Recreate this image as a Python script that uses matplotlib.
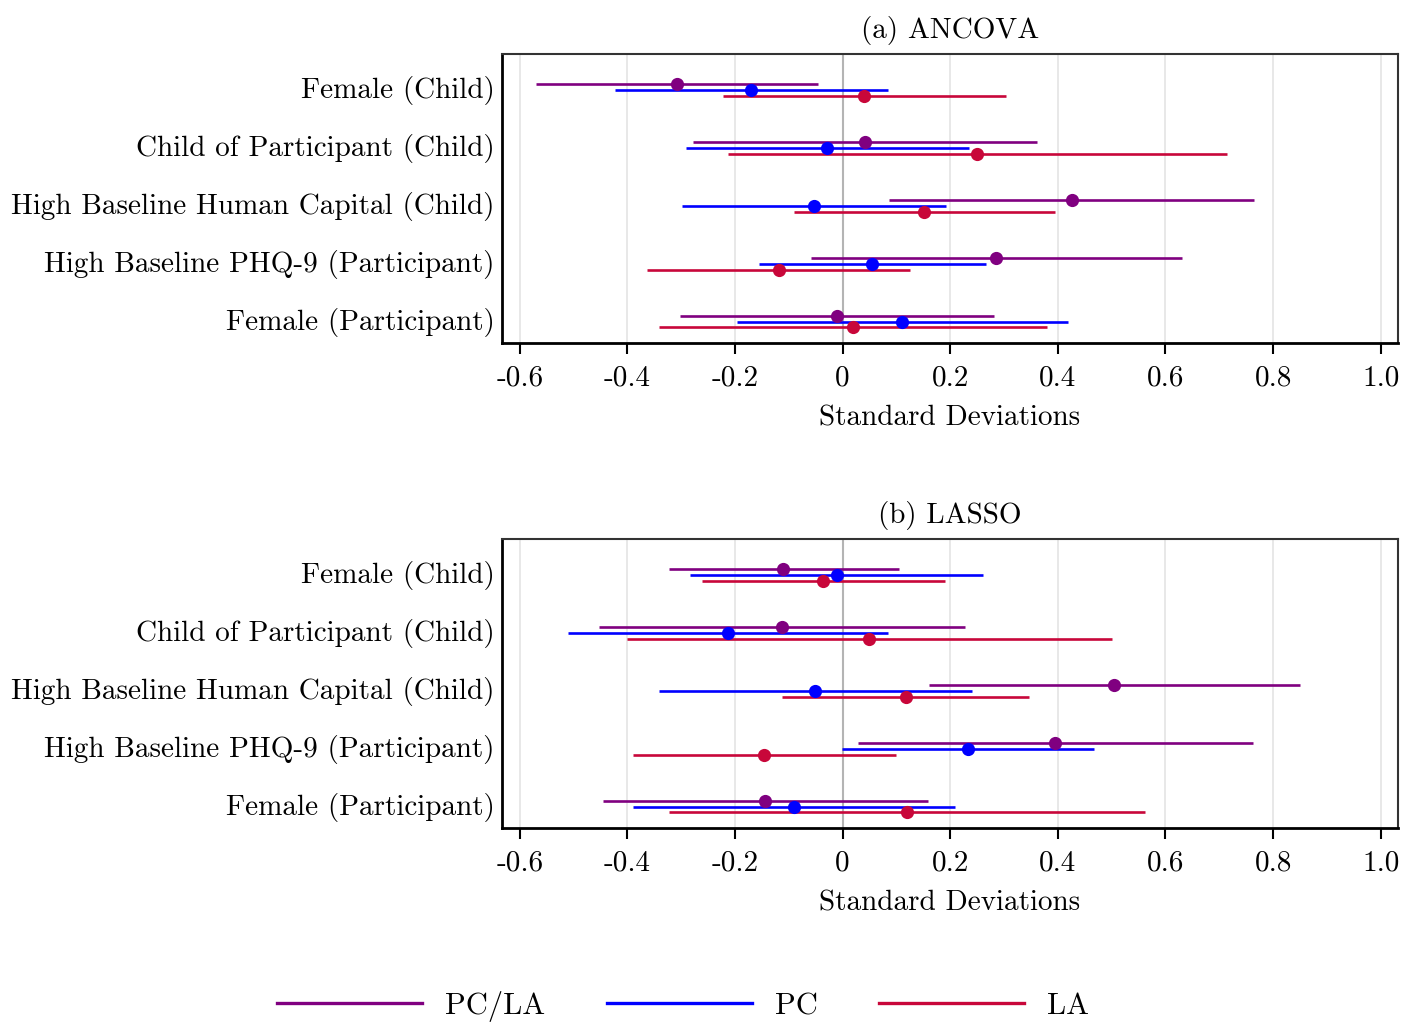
"""Heterogeneity coefficient plot: ANCOVA and LASSO estimates with 95% CIs."""
import matplotlib
matplotlib.use("Agg")
import matplotlib.pyplot as plt
import matplotlib.transforms as mtransforms
from matplotlib.lines import Line2D

plt.rcParams["font.family"] = ["cmr10", "DejaVu Serif"]
plt.rcParams["axes.unicode_minus"] = False
plt.rcParams["mathtext.fontset"] = "cm"

rows = [
    "Female (Child)",
    "Child of Participant (Child)",
    "High Baseline Human Capital (Child)",
    "High Baseline PHQ-9 (Participant)",
    "Female (Participant)",
]
groups = ["PC/LA", "PC", "LA"]
colors = {"PC/LA": "#800080", "PC": "#0000ff", "LA": "#c8073a"}

xticks = [-0.6, -0.4, -0.2, 0, 0.2, 0.4, 0.6, 0.8, 1.0]
xticklabels = ["-0.6", "-0.4", "-0.2", "0", "0.2", "0.4", "0.6", "0.8", "1.0"]

# (a) ANCOVA: point estimate, lower and upper bound per row
ancova_est = {
    "PC/LA": [-0.307, 0.042, 0.426, 0.286, -0.011],
    "PC": [-0.170, -0.029, -0.053, 0.054, 0.110],
    "LA": [0.039, 0.250, 0.151, -0.119, 0.019],
}
ancova_lo = {
    "PC/LA": [-0.570, -0.278, 0.087, -0.058, -0.303],
    "PC": [-0.422, -0.291, -0.298, -0.156, -0.197],
    "LA": [-0.223, -0.213, -0.091, -0.364, -0.341],
}
ancova_hi = {
    "PC/LA": [-0.045, 0.362, 0.765, 0.630, 0.282],
    "PC": [0.084, 0.235, 0.193, 0.266, 0.418],
    "LA": [0.304, 0.714, 0.395, 0.125, 0.379],
}

# (b) LASSO
lasso_est = {
    "PC/LA": [-0.110, -0.113, 0.505, 0.395, -0.144],
    "PC": [-0.011, -0.212, -0.051, 0.233, -0.091],
    "LA": [-0.036, 0.049, 0.117, -0.146, 0.119],
}
lasso_lo = {
    "PC/LA": [-0.323, -0.453, 0.161, 0.029, -0.445],
    "PC": [-0.283, -0.510, -0.341, -0.002, -0.389],
    "LA": [-0.261, -0.401, -0.112, -0.389, -0.322],
}
lasso_hi = {
    "PC/LA": [0.105, 0.227, 0.850, 0.762, 0.158],
    "PC": [0.260, 0.084, 0.240, 0.467, 0.209],
    "LA": [0.190, 0.501, 0.346, 0.099, 0.562],
}

offsets = {"PC/LA": -0.1, "PC": 0.0, "LA": 0.1}
FS = 21


def draw_panel(fig, ax, est, lo, hi, title):
    for x in xticks:
        ax.axvline(x, color="#e6e6e6", lw=1.3, zorder=0)
    ax.axvline(0, color="#b4b4b4", lw=1.5, zorder=1)
    for g in groups:
        for i in range(len(rows)):
            y = i + offsets[g]
            ax.plot([lo[g][i], hi[g][i]], [y, y], color=colors[g], lw=1.9,
                    solid_capstyle="butt", zorder=2)
            ax.plot(est[g][i], y, "o", color=colors[g], ms=9.5, mew=0,
                    zorder=3)
    ax.set_xlim(-0.633, 1.032)
    ax.set_ylim(4.36, -0.63)
    ax.set_yticks(range(len(rows)))
    ax.set_yticklabels(rows, fontsize=FS)
    ax.set_xticks(xticks)
    ax.set_xticklabels(xticklabels, fontsize=FS)
    ax.tick_params(axis="y", length=0, pad=5)
    ax.tick_params(axis="x", length=8, width=1.5, pad=8)
    # row labels sit a little above the row centre in the original
    shift = mtransforms.ScaledTranslation(0, 3 / 100, fig.dpi_scale_trans)
    for lbl in ax.get_yticklabels():
        lbl.set_transform(lbl.get_transform() + shift)
    ax.set_xlabel("Standard Deviations", fontsize=FS, labelpad=10)
    ax.set_title(title, fontsize=FS, pad=11)
    for side in ("left", "bottom"):
        ax.spines[side].set_linewidth(2.0)
        ax.spines[side].set_color("black")
    for side in ("top", "right"):
        ax.spines[side].set_linewidth(1.5)
        ax.spines[side].set_color("#333333")


fig = plt.figure(figsize=(14.04, 10.23), dpi=100)
ax_a = fig.add_axes([0.3575, 0.6652, 0.6382, 0.2825])
ax_b = fig.add_axes([0.3575, 0.1911, 0.6382, 0.2825])
draw_panel(fig, ax_a, ancova_est, ancova_lo, ancova_hi, "(a) ANCOVA")
draw_panel(fig, ax_b, lasso_est, lasso_lo, lasso_hi, "(b) LASSO")

handles = [Line2D([0], [0], color=colors[g], lw=2.4) for g in groups]
fig.legend(handles, groups, loc="center", bbox_to_anchor=(0.4865, 0.016),
           ncol=3, frameon=False, fontsize=22, handlelength=4.75,
           handletextpad=0.75, columnspacing=2.0)

fig.savefig("out.png", dpi=100)
